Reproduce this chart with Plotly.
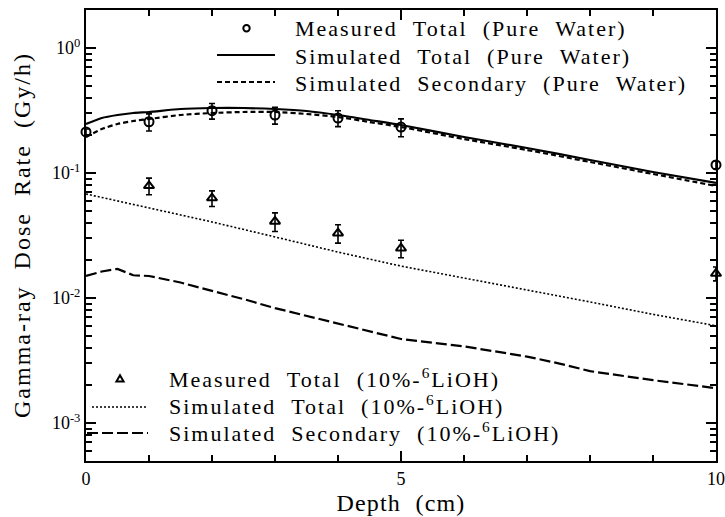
import plotly.graph_objects as go

# ---------------- data ----------------
depth_meas_pw = [0, 1, 2, 3, 4, 5, 10]
dose_meas_pw = [0.213, 0.257, 0.315, 0.291, 0.275, 0.233, 0.116]
err_meas_pw = [0.012, 0.04, 0.045, 0.045, 0.04, 0.038, 0.008]

depth_sim_pw = [0, 0.25, 0.5, 0.75, 1, 1.5, 2, 2.5, 3, 3.5, 4, 4.5, 5, 6, 7, 8, 9, 10]
dose_sim_tot_pw = [0.2466, 0.2754, 0.2911, 0.302, 0.3076, 0.3251, 0.3311, 0.3311, 0.3251,
                   0.3133, 0.2911, 0.2655, 0.2421, 0.1941, 0.1585, 0.1271, 0.1019, 0.0832]
dose_sim_sec_pw = [0.194, 0.2249, 0.2466, 0.2606, 0.2704, 0.2911, 0.302, 0.3076, 0.3076,
                   0.2965, 0.2805, 0.2559, 0.2333, 0.1871, 0.1528, 0.1225, 0.0982, 0.0787]

depth_meas_li = [1, 2, 3, 4, 5, 10]
dose_meas_li = [0.079, 0.063, 0.041, 0.033, 0.025, 0.0157]
err_meas_li = [0.012, 0.009, 0.007, 0.0055, 0.004, 0.002]

depth_sim_tot_li = [0, 1, 2, 3, 4, 5, 6, 7, 8, 9, 10]
dose_sim_tot_li = [0.068, 0.0525, 0.0406, 0.0308, 0.0233, 0.018, 0.0145, 0.0116, 0.0093, 0.0074, 0.006]

depth_sim_sec_li = [0, 0.25, 0.5, 0.75, 1, 1.5, 2, 2.5, 3, 3.5, 4, 4.5, 5, 6, 7, 7.5, 8, 9, 10]
dose_sim_sec_li = [0.015, 0.0163, 0.0171, 0.0152, 0.015, 0.0133, 0.0114, 0.0098, 0.0083, 0.0072,
                   0.0062, 0.0054, 0.0047, 0.0041, 0.0034, 0.0030, 0.0026, 0.0022, 0.0019]

x_major_ticks = [0, 5, 10]
x_minor_ticks = [1, 2, 3, 4, 6, 7, 8, 9]
y_major_ticks = [0.001, 0.01, 0.1, 1]
y_major_text = ["10<sup>-3</sup>", "10<sup>-2</sup>", "10<sup>-1</sup>", "10<sup>0</sup>"]

S = "\u00a0\u00a0"
label_mpw = f"Measured{S}Total{S}(Pure{S}Water)"
label_tpw = f"Simulated{S}Total{S}(Pure{S}Water)"
label_spw = f"Simulated{S}Secondary{S}(Pure{S}Water)"
label_mli = f"Measured{S}Total{S}(10%-<sup>6</sup>LiOH)"
label_tli = f"Simulated{S}Total{S}(10%-<sup>6</sup>LiOH)"
label_sli = f"Simulated{S}Secondary{S}(10%-<sup>6</sup>LiOH)"
x_title = "Depth\u00a0\u00a0(cm)"
y_title = f"Gamma-ray{S}Dose{S}Rate{S}(Gy/h)"

# ---------------- layout constants ----------------
W, H = 725, 517
ML, MR, MT, MB = 86, 9, 10, 56
PW, PH = W - ML - MR, H - MT - MB
FONT = "Liberation Serif"
DASH_SEC_PW = "5px,3px"
DASH_TOT_LI = "2px,2px"
DASH_SEC_LI = "11px,4px"


def px(xp):
    return (xp - ML) / PW


def py(yp):
    return (H - MB - yp) / PH


fig = go.Figure()

fig.add_trace(go.Scatter(
    x=depth_meas_pw, y=dose_meas_pw, mode="markers", name=label_mpw, showlegend=False,
    marker=dict(symbol="circle-open", size=9, color="black", line=dict(width=2, color="black")),
    error_y=dict(type="data", array=err_meas_pw, color="black", thickness=1.6, width=3),
    cliponaxis=False))
fig.add_trace(go.Scatter(
    x=depth_sim_pw, y=dose_sim_tot_pw, mode="lines", name=label_tpw, showlegend=False,
    line=dict(color="black", width=2.2, shape="spline", smoothing=0.6)))
fig.add_trace(go.Scatter(
    x=depth_sim_pw, y=dose_sim_sec_pw, mode="lines", name=label_spw, showlegend=False,
    line=dict(color="black", width=2.2, dash=DASH_SEC_PW, shape="spline", smoothing=0.6)))
fig.add_trace(go.Scatter(
    x=depth_meas_li, y=dose_meas_li, mode="markers", name=label_mli, showlegend=False,
    marker=dict(symbol="triangle-up-open", size=9, color="black", line=dict(width=2, color="black")),
    error_y=dict(type="data", array=err_meas_li, color="black", thickness=1.6, width=3),
    cliponaxis=False))
fig.add_trace(go.Scatter(
    x=depth_sim_tot_li, y=dose_sim_tot_li, mode="lines", name=label_tli, showlegend=False,
    line=dict(color="black", width=1.6, dash=DASH_TOT_LI)))
fig.add_trace(go.Scatter(
    x=depth_sim_sec_li, y=dose_sim_sec_li, mode="lines", name=label_sli, showlegend=False,
    line=dict(color="black", width=2.2, dash=DASH_SEC_LI)))

axis_common = dict(
    showline=True, linecolor="black", linewidth=2, mirror="allticks",
    ticks="inside", tickcolor="black", tickwidth=2, ticklen=10,
    showgrid=False, zeroline=False, automargin=False,
    tickfont=dict(family=FONT, size=18, color="black"),
)
fig.update_xaxes(range=[0, 10], tickmode="array", tickvals=x_major_ticks,
                 minor=dict(tickmode="array", tickvals=x_minor_ticks, ticks="inside",
                            ticklen=6, tickwidth=2, tickcolor="black"),
                 **axis_common)
y_minor = [m * 10.0 ** e for e in range(-4, 1) for m in range(2, 10)]
fig.update_yaxes(type="log", range=[-3.304, 0.304], tickmode="array", tickvals=y_major_ticks,
                 ticktext=y_major_text,
                 minor=dict(tickmode="array", tickvals=y_minor, ticks="inside",
                            ticklen=6, tickwidth=2, tickcolor="black"),
                 **axis_common)

# ---------------- hand-placed legends ----------------
LEG_FONT = dict(family=FONT, size=22, color="black")
annotations = []
shapes = []
top_rows = [(label_mpw, 28), (label_tpw, 56), (label_spw, 83)]
bot_rows = [(label_mli, 378), (label_tli, 405), (label_sli, 432)]
for text, yrow in top_rows:
    annotations.append(dict(text=text, xref="paper", yref="paper", x=px(293), y=py(yrow),
                            xanchor="left", yanchor="middle", align="left", showarrow=False,
                            font=LEG_FONT))
for text, yrow in bot_rows:
    annotations.append(dict(text=text, xref="paper", yref="paper", x=px(167), y=py(yrow),
                            xanchor="left", yanchor="middle", align="left", showarrow=False,
                            font=LEG_FONT))

# legend samples (top)
shapes.append(dict(type="circle", xref="paper", yref="paper", xsizemode="pixel", ysizemode="pixel",
                   xanchor=px(246.5), yanchor=py(28.3), x0=-3.2, x1=3.2, y0=-3.2, y1=3.2,
                   line=dict(color="black", width=2)))
shapes.append(dict(type="line", xref="paper", yref="paper", x0=px(217), x1=px(275),
                   y0=py(55), y1=py(55), line=dict(color="black", width=2.2)))
shapes.append(dict(type="line", xref="paper", yref="paper", x0=px(217), x1=px(275),
                   y0=py(82), y1=py(82), line=dict(color="black", width=2.2, dash=DASH_SEC_PW)))
# legend samples (bottom)
shapes.append(dict(type="path", xref="paper", yref="paper", xsizemode="pixel", ysizemode="pixel",
                   xanchor=px(120), yanchor=py(379), path="M-3.6,-2.6 L3.6,-2.6 L0,3.8 Z",
                   line=dict(color="black", width=2)))
shapes.append(dict(type="line", xref="paper", yref="paper", x0=px(92), x1=px(148),
                   y0=py(407), y1=py(407), line=dict(color="black", width=1.6, dash=DASH_TOT_LI)))
shapes.append(dict(type="line", xref="paper", yref="paper", x0=px(87), x1=px(148),
                   y0=py(433), y1=py(433), line=dict(color="black", width=2.2, dash=DASH_SEC_LI)))

annotations.append(dict(text=x_title, xref="paper", yref="paper", x=0.5, y=py(503),
                        xanchor="center", yanchor="middle", showarrow=False,
                        font=dict(family=FONT, size=24, color="black")))
annotations.append(dict(text=y_title, xref="paper", yref="paper", x=px(22), y=py(235),
                        xanchor="center", yanchor="middle", textangle=-90, showarrow=False,
                        font=dict(family=FONT, size=24, color="black")))

fig.update_layout(
    width=W, height=H,
    margin=dict(l=ML, r=MR, t=MT, b=MB),
    paper_bgcolor="white", plot_bgcolor="white",
    font=dict(family=FONT, color="black"),
    showlegend=False,
    annotations=annotations,
    shapes=shapes,
)

post_js = """
var gd = document.getElementById('{plot_id}');
function spaceLetters() {
  gd.querySelectorAll('g.annotation text.annotation-text').forEach(function (t) {
    var s = t.textContent || '';
    if (s.indexOf('Gamma') === 0) { t.style.letterSpacing = '2px'; }
    else if (s.indexOf('Depth') === 0) { t.style.letterSpacing = '1.2px'; }
    else { t.style.letterSpacing = '2px'; }
  });
}
spaceLetters();
gd.on('plotly_afterplot', spaceLetters);
"""

fig.write_html("out.html", post_script=post_js)
